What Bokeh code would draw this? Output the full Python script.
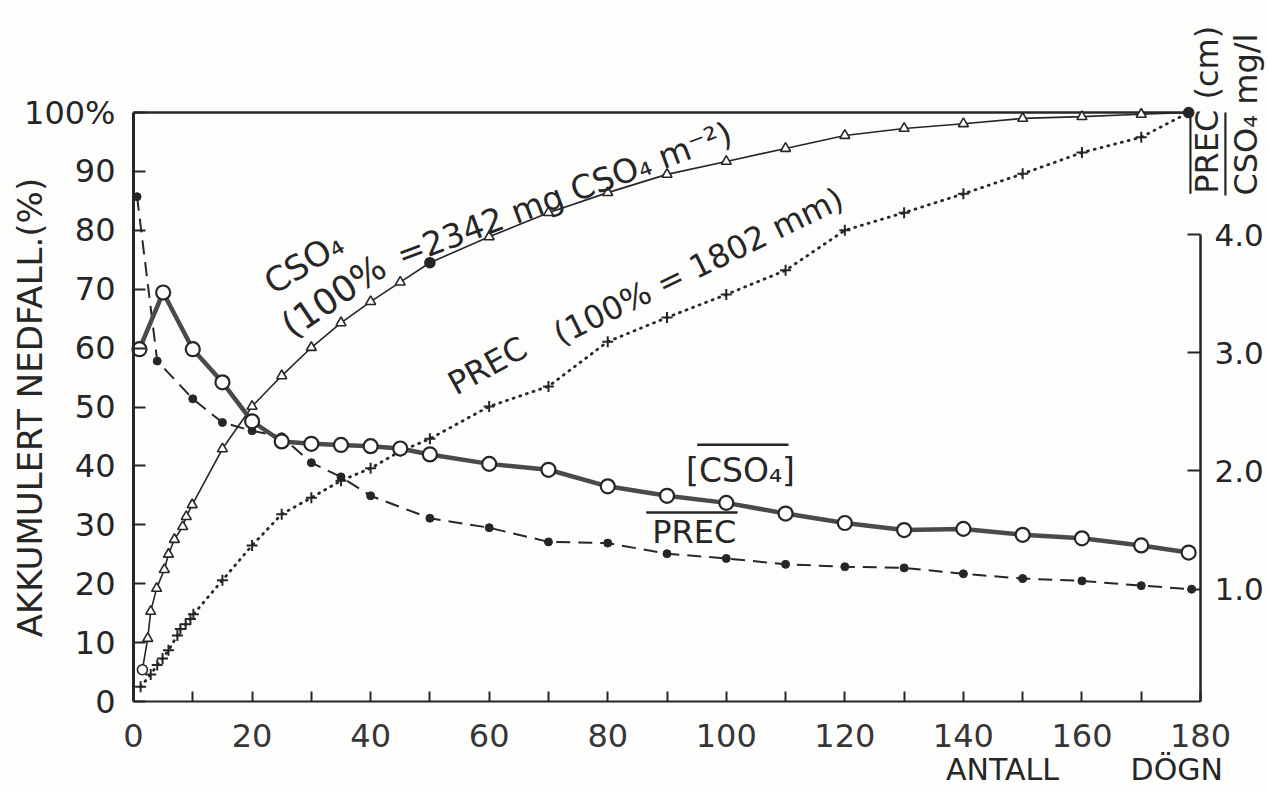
import math
from bokeh.plotting import figure
from bokeh.models import (Range1d, LinearAxis, FixedTicker, Label, Arrow,
                          PrintfTickFormatter, ColumnDataSource)
from bokeh.embed import file_html
from bokeh.resources import INLINE

# ---- data -------------------------------------------------------------
# cumulative sulphate deposition (% of 2342 mg CSO4 m-2)
cso4_cum_days = [1.5, 2.4, 2.9, 3.9, 5.2, 5.9, 6.9, 8.3, 8.9, 9.9, 15, 20, 25, 30,
                 35, 40, 45, 50, 60, 70, 80, 90, 100, 110, 120, 130, 140, 150,
                 160, 170, 178]
cso4_cum_pct = [5.4, 10.7, 15.3, 19.2, 22.4, 25.0, 27.5, 29.7, 31.4, 33.4, 42.9,
                50.1, 55.3, 60.1, 64.3, 67.9, 71.2, 74.5, 78.9, 83.0, 86.4, 89.5,
                91.7, 93.9, 96.1, 97.3, 98.1, 99.0, 99.3, 99.7, 100.0]

# cumulative precipitation (% of 1802 mm)
prec_cum_days = [1.2, 2.9, 4.0, 4.9, 5.9, 7.4, 7.9, 8.8, 9.6, 10.1, 15, 20, 25, 30,
                 35, 40, 45, 50, 60, 70, 80, 90, 100, 110, 120, 130, 140, 150,
                 160, 170, 178]
prec_cum_pct = [2.5, 4.6, 6.2, 7.3, 8.7, 11.2, 12.3, 13.1, 14.0, 14.8, 20.6, 26.5,
                31.8, 34.6, 37.5, 39.6, 42.5, 44.6, 50.1, 53.5, 61.1, 65.2, 69.1,
                73.2, 80.0, 83.0, 86.2, 89.6, 93.2, 95.8, 100.0]

# mean sulphate concentration (mg/l)
cso4_conc_days = [1, 5, 10, 15, 20, 25, 30, 35, 40, 45, 50, 60, 70, 80, 90, 100,
                  110, 120, 130, 140, 150, 160, 170, 178]
cso4_conc_mgl = [3.03, 3.51, 3.03, 2.75, 2.42, 2.25, 2.23, 2.22, 2.21, 2.19, 2.14,
                 2.06, 2.01, 1.87, 1.79, 1.73, 1.64, 1.56, 1.50, 1.51, 1.46, 1.43,
                 1.37, 1.31]

# mean precipitation (cm)
prec_mean_days = [0.6, 4, 10, 15, 20, 25, 30, 35, 40, 50, 60, 70, 80, 90, 100, 110,
                  120, 130, 140, 150, 160, 170, 178.5]
prec_mean_cm = [4.32, 2.93, 2.61, 2.41, 2.34, 2.29, 2.07, 1.95, 1.79, 1.60, 1.52,
                1.40, 1.39, 1.30, 1.26, 1.21, 1.19, 1.18, 1.13, 1.09, 1.07, 1.03,
                1.00]

x_ticks = list(range(0, 181, 20))
x_minor = list(range(10, 180, 20))
pct_ticks = list(range(0, 101, 10))
conc_ticks = [1, 2, 3, 4]

# ---- styling ------------------------------------------------------------
FONT = "DejaVu Sans"
INK = "#262626"
PAPER = "#fdfdfc"

# the plotting frame fills the whole canvas; the axes are pinned to data
# positions so that titles around them can be placed as ordinary labels
p = figure(width=1268, height=792,
           x_range=Range1d(-22.44, 191.47), y_range=Range1d(-15.45, 119.02),
           x_axis_location=None, y_axis_location=None,
           output_backend="svg", toolbar_location=None, min_border=0)
p.extra_y_ranges = {"conc": Range1d(-0.720, 5.980)}
p.background_fill_color = PAPER
p.border_fill_color = PAPER
p.outline_line_color = None
p.xgrid.grid_line_color = None
p.ygrid.grid_line_color = None


def style_axis(ax, width, tick_in, standoff, size, color=INK):
    ax.axis_line_width = width
    ax.axis_line_color = INK
    ax.major_tick_in = tick_in
    ax.major_tick_out = 0
    ax.major_tick_line_width = 2
    ax.major_tick_line_color = INK
    ax.minor_tick_in = tick_in
    ax.minor_tick_out = 0
    ax.minor_tick_line_width = 2
    ax.minor_tick_line_color = INK
    ax.major_label_standoff = standoff
    ax.major_label_text_font = FONT
    ax.major_label_text_font_size = size
    ax.major_label_text_color = color


# left axis: accumulated deposition in percent
ya = LinearAxis(ticker=FixedTicker(ticks=pct_ticks), bounds=(0, 100),
                fixed_location=0)
ya.major_label_overrides = {100: "100%"}
style_axis(ya, 3, 12, 18, "32px")
ya.minor_tick_line_color = None
p.add_layout(ya, "left")

# bottom axis: days
xa = LinearAxis(ticker=FixedTicker(ticks=x_ticks, minor_ticks=x_minor),
                bounds=(0, 180), fixed_location=0)
style_axis(xa, 2.2, 10, 22, "32px", color="#363636")
p.add_layout(xa, "below")

# right axis: concentration / precipitation scale
ra = LinearAxis(y_range_name="conc", ticker=FixedTicker(ticks=conc_ticks),
                formatter=PrintfTickFormatter(format="%.1f"),
                bounds=(0.0498, 4.0), fixed_location=180)
style_axis(ra, 2.5, 13, 14, "31px")
ra.minor_tick_line_color = None
p.add_layout(ra, "right")

# 100 % reference line along the top
p.line([0, cso4_cum_days[-1]], [100, 100], line_color=INK, line_width=2.6)

# mean precipitation: dashed line with filled dots
p.line(prec_mean_days, prec_mean_cm, y_range_name="conc",
       line_color=INK, line_width=2, line_dash="14 8")
p.scatter(prec_mean_days, prec_mean_cm, y_range_name="conc", marker="circle",
          size=8, fill_color=INK, line_color=INK)

# cumulative precipitation: dotted line with crosses
p.line(prec_cum_days, prec_cum_pct, line_color=INK, line_width=2.8,
       line_dash="1 6", line_cap="round")
p.scatter(prec_cum_days, prec_cum_pct, marker="cross", size=11,
          line_color=INK, line_width=2)

# cumulative sulphate: thin line with open triangles
cum_markers = ["circle" if i == 0 else "triangle" for i in range(len(cso4_cum_days))]
cum_fill = [PAPER] * len(cso4_cum_days)
for i, d in enumerate(cso4_cum_days):
    if d in (50, cso4_cum_days[-1]):
        cum_markers[i] = "circle"
        cum_fill[i] = INK
cum_src = ColumnDataSource(dict(x=cso4_cum_days, y=cso4_cum_pct,
                                marker=cum_markers, fill=cum_fill))
p.line("x", "y", source=cum_src, line_color=INK, line_width=1.6)
p.scatter("x", "y", source=cum_src, marker="marker", size=10,
          fill_color="fill", line_color=INK, line_width=1.6)

# mean sulphate concentration: heavy line with open circles
p.line(cso4_conc_days, cso4_conc_mgl, y_range_name="conc",
       line_color="#4a4a4a", line_width=4.5)
p.scatter(cso4_conc_days, cso4_conc_mgl, y_range_name="conc", marker="circle",
          size=14, fill_color="white", line_color=INK, line_width=2.2)


def label(x, y, text, deg=0.0, size="32px", align="center", color=INK):
    p.add_layout(Label(x=x, y=y, text=text, angle=math.radians(deg),
                       text_align=align, text_baseline="middle",
                       text_font=FONT, text_font_size=size, text_color=color))


def overline(x0, y0, x1, y1, width=2.2):
    p.add_layout(Arrow(end=None, x_start=x0, y_start=y0, x_end=x1, y_end=y1,
                       line_color=INK, line_width=width))


# axis titles
label(-17.4, 49.9, "AKKUMULERT NEDFALL.(%)", 90, size="34px")
label(146.6, -11.6, "ANTALL", 0, size="30px")
label(176.0, -11.6, "DÖGN", 0, size="30px")

label(181.1, 86.2, "PREC (cm)", 90, size="32px", align="left")
label(187.6, 85.9, "CSO₄ mg/l", 90, size="32px", align="left")
overline(178.3, 86.2, 178.3, 100.2)
overline(184.2, 85.9, 184.2, 100.0)

# curve annotations
label(28.7, 74.5, "CSO₄", 32, size="34px")
label(25.6, 63.3, "(100%", 34, size="36px", align="left")
label(44.6, 75.6, "=2342 mg CSO₄ m⁻²)", 20.5, size="33px", align="left")
label(59.7, 57.0, "PREC", 29)
label(95.3, 73.9, "(100% = 1802 mm)", 26)

label(102.4, 39.2, "[CSO₄]", 0, size="33px")
overline(95.1, 43.6, 110.5, 43.6, width=2.4)
label(94.6, 28.7, "PREC", 0, size="32px")
overline(86.5, 32.1, 101.9, 32.1, width=2.4)

open("out.html", "w").write(file_html(p, INLINE))
